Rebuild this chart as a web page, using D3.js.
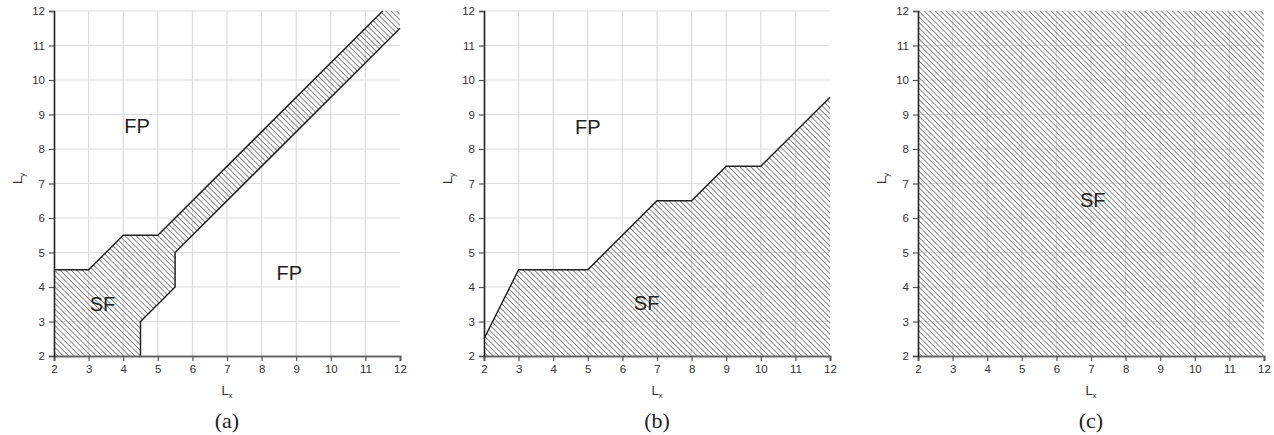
<!DOCTYPE html>
<html>
<head>
<meta charset="utf-8">
<script src="https://cdn.jsdelivr.net/npm/d3@7"></script>
<style>
  body { margin: 0; background: #fff; }
  svg { display: block; }
</style>
</head>
<body>
<div id="chart"></div>
<script>
// Overall SVG size
var svgWidth = 1274;
var svgHeight = 435;

// Axis ticks (same for both axes)
var tickValues = [2, 3, 4, 5, 6, 7, 8, 9, 10, 11, 12];

// Panel (a): upper and lower boundary of the SF band
var aUpper = [[2, 4.5], [3, 4.5], [4, 5.5], [5, 5.5], [11.5, 12]];
var aLower = [[4.5, 2], [4.5, 3], [5.5, 4], [5.5, 5], [12, 11.5]];

// Panel (b): boundary between FP (above) and SF (below)
var bBoundary = [[2, 2.5], [3, 4.5], [5, 4.5], [7, 6.5], [8, 6.5], [9, 7.5], [10, 7.5], [12, 9.5]];

// Region labels per panel: [text, Lx, Ly]
var aLabels = [["FP", 4.4, 8.67], ["FP", 8.8, 4.4], ["SF", 3.4, 3.5]];
var bLabels = [["FP", 5.0, 8.65], ["SF", 6.7, 3.55]];
var cLabels = [["SF", 7.05, 6.52]];

var captions = ["(a)", "(b)", "(c)"];

// Plot area placement for each panel
var panelLeft = [54, 484, 918];
var plotTop = 11;
var plotW = 346;
var plotH = 345;

var svg = d3.select("#chart")
  .append("svg")
  .attr("width", svgWidth)
  .attr("height", svgHeight);

// Hatch pattern (\\\ lines)
svg.append("defs")
  .append("pattern")
  .attr("id", "hatch")
  .attr("patternUnits", "userSpaceOnUse")
  .attr("width", 3.9)
  .attr("height", 10)
  .attr("patternTransform", "rotate(-45)")
  .append("line")
  .attr("x1", 0.5).attr("y1", 0)
  .attr("x2", 0.5).attr("y2", 10)
  .attr("stroke", "#7a7a7a")
  .attr("stroke-width", 0.9);

var x = d3.scaleLinear().domain([2, 12]).range([0, plotW]);
var y = d3.scaleLinear().domain([2, 12]).range([plotH, 0]);

var line = d3.line().x(d => x(d[0])).y(d => y(d[1]));

// Polygons for the hatched (SF) regions
var aPoly = aUpper.concat([[12, 12]], aLower.slice().reverse(), [[2, 2]]);
var bPoly = bBoundary.concat([[12, 2], [2, 2]]);
var cPoly = [[2, 2], [2, 12], [12, 12], [12, 2]];

var panels = [
  { poly: aPoly, lines: [aUpper, aLower], labels: aLabels },
  { poly: bPoly, lines: [bBoundary], labels: bLabels },
  { poly: cPoly, lines: [], labels: cLabels }
];

panels.forEach(function(p, i) {
  var g = svg.append("g")
    .attr("transform", `translate(${panelLeft[i]}, ${plotTop})`);

  // grid
  g.append("g").selectAll("line.v")
    .data(tickValues.slice(1, -1))
    .join("line")
    .attr("x1", d => x(d)).attr("x2", d => x(d))
    .attr("y1", 0).attr("y2", plotH)
    .attr("stroke", "#dcdcdc").attr("stroke-width", 1.2);
  g.append("g").selectAll("line.h")
    .data(tickValues.slice(1))
    .join("line")
    .attr("x1", 0).attr("x2", plotW)
    .attr("y1", d => y(d)).attr("y2", d => y(d))
    .attr("stroke", "#dcdcdc").attr("stroke-width", 1.2);

  // hatched region
  g.append("path")
    .attr("d", line(p.poly) + "Z")
    .attr("fill", "url(#hatch)")
    .attr("stroke", "none");

  // boundaries
  p.lines.forEach(function(l) {
    g.append("path")
      .attr("d", line(l))
      .attr("fill", "none")
      .attr("stroke", "#222")
      .attr("stroke-width", 1.5);
  });

  // region labels
  g.selectAll("text.region")
    .data(p.labels)
    .join("text")
    .attr("x", d => x(d[1]))
    .attr("y", d => y(d[2]))
    .attr("text-anchor", "middle")
    .attr("dominant-baseline", "central")
    .attr("font-family", "Liberation Sans, Arial, sans-serif")
    .attr("font-size", 20)
    .attr("fill", "#222")
    .text(d => d[0]);

  // axes
  var bottomAxis = d3.axisBottom(x).tickValues(tickValues).tickSize(5).tickPadding(4);
  var leftAxis = d3.axisLeft(y).tickValues(tickValues).tickSize(5).tickPadding(4);

  var bx = g.append("g")
    .attr("transform", `translate(0, ${plotH})`)
    .call(bottomAxis);
  bx.select(".domain").attr("stroke", "#666").attr("stroke-width", 2);
  bx.selectAll(".tick line").attr("stroke", "#555").attr("stroke-width", 1.2);

  var ly = g.append("g").call(leftAxis);
  ly.select(".domain").attr("stroke", "#222").attr("stroke-width", 1.6);
  ly.selectAll(".tick line").attr("stroke", "#555").attr("stroke-width", 1.2);

  g.selectAll(".tick text")
    .attr("font-family", "Liberation Sans, Arial, sans-serif")
    .attr("font-size", 11.5)
    .attr("fill", "#333");

  // axis titles
  var xt = g.append("text")
    .attr("x", plotW / 2)
    .attr("y", plotH + 39)
    .attr("text-anchor", "middle")
    .attr("font-family", "Liberation Sans, Arial, sans-serif")
    .attr("font-size", 13)
    .attr("fill", "#333");
  xt.append("tspan").text("L");
  xt.append("tspan").attr("font-size", 8).attr("dy", 3).text("x");

  var yt = g.append("text")
    .attr("transform", `translate(-32, ${plotH / 2 - 5}) rotate(-90)`)
    .attr("text-anchor", "middle")
    .attr("font-family", "Liberation Sans, Arial, sans-serif")
    .attr("font-size", 13)
    .attr("fill", "#333");
  yt.append("tspan").text("L");
  yt.append("tspan").attr("font-size", 8).attr("dy", 3).text("y");

  // caption
  g.append("text")
    .attr("x", plotW / 2)
    .attr("y", plotH + 72)
    .attr("text-anchor", "middle")
    .attr("font-family", "Liberation Serif, serif")
    .attr("font-size", 22)
    .attr("fill", "#222")
    .text(captions[i]);
});
</script>
</body>
</html>
